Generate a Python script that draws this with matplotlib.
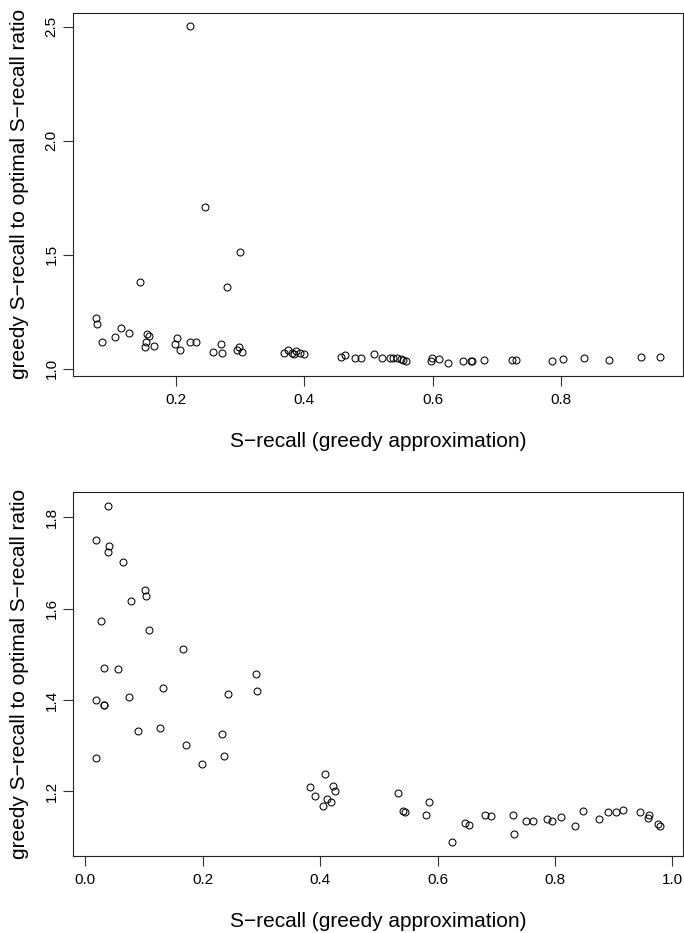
import matplotlib
matplotlib.use("Agg")
import matplotlib.pyplot as plt

plt.rcParams['font.family'] = ['Liberation Sans', 'DejaVu Sans']

# ── Data ──────────────────────────────────────────────────────────────────────
top_x = [0.223, 0.245, 0.301, 0.145, 0.280, 0.076, 0.078, 0.085, 0.106, 0.115,
         0.127, 0.156, 0.158, 0.154, 0.152, 0.166, 0.202, 0.199, 0.207, 0.222,
         0.232, 0.259, 0.270, 0.273, 0.295, 0.299, 0.303, 0.368, 0.375, 0.381,
         0.384, 0.388, 0.394, 0.400, 0.458, 0.463, 0.479, 0.488, 0.508, 0.521,
         0.534, 0.539, 0.545, 0.550, 0.554, 0.559, 0.597, 0.599, 0.610, 0.624,
         0.648, 0.659, 0.662, 0.680, 0.724, 0.730, 0.785, 0.803, 0.836, 0.875,
         0.924, 0.954]
top_y = [2.502, 1.710, 1.510, 1.380, 1.357, 1.221, 1.195, 1.118, 1.138, 1.178,
         1.157, 1.150, 1.144, 1.118, 1.097, 1.100, 1.134, 1.109, 1.083, 1.119,
         1.119, 1.074, 1.107, 1.067, 1.084, 1.094, 1.074, 1.071, 1.081, 1.067,
         1.064, 1.077, 1.069, 1.064, 1.053, 1.062, 1.047, 1.046, 1.065, 1.049,
         1.045, 1.049, 1.046, 1.043, 1.040, 1.033, 1.032, 1.045, 1.042, 1.027,
         1.032, 1.034, 1.034, 1.037, 1.040, 1.040, 1.032, 1.043, 1.046, 1.040,
         1.050, 1.053]

bot_x = [0.039, 0.018, 0.041, 0.039, 0.064, 0.102, 0.103, 0.078, 0.027, 0.109,
         0.166, 0.031, 0.055, 0.291, 0.133, 0.292, 0.243, 0.074, 0.018, 0.031,
         0.031, 0.128, 0.090, 0.233, 0.172, 0.236, 0.018, 0.199, 0.408, 0.382,
         0.422, 0.426, 0.392, 0.411, 0.419, 0.405, 0.532, 0.541, 0.545, 0.586,
         0.580, 0.646, 0.653, 0.680, 0.691, 0.728, 0.750, 0.763, 0.786, 0.794,
         0.811, 0.834, 0.848, 0.875, 0.890, 0.903, 0.915, 0.944, 0.960, 0.959,
         0.976, 0.979, 0.624, 0.730]
bot_y = [1.825, 1.751, 1.738, 1.723, 1.701, 1.641, 1.628, 1.616, 1.572, 1.554,
         1.512, 1.471, 1.468, 1.457, 1.427, 1.419, 1.414, 1.406, 1.400, 1.390,
         1.389, 1.338, 1.333, 1.326, 1.302, 1.277, 1.273, 1.260, 1.239, 1.210,
         1.212, 1.201, 1.190, 1.184, 1.176, 1.169, 1.197, 1.158, 1.154, 1.176,
         1.148, 1.130, 1.126, 1.148, 1.146, 1.148, 1.135, 1.136, 1.139, 1.136,
         1.145, 1.125, 1.157, 1.140, 1.156, 1.155, 1.159, 1.156, 1.148, 1.142,
         1.128, 1.125, 1.089, 1.106]

top_xticks = [0.2, 0.4, 0.6, 0.8]
top_yticks = [1.0, 1.5, 2.0, 2.5]
bot_xticks = [0.0, 0.2, 0.4, 0.6, 0.8, 1.0]
bot_yticks = [1.2, 1.4, 1.6, 1.8]

XLABEL = "S\u2212recall (greedy approximation)"
YLABEL = "greedy S\u2212recall to optimal S\u2212recall ratio"


def r_limits(v):
    # R's default 4% padding of the data range
    lo, hi = min(v), max(v)
    pad = 0.04 * (hi - lo)
    return lo - pad, hi + pad


def r_tick(t):
    return f"{t:.1f}"


fig = plt.figure(figsize=(6.84, 9.33), dpi=100)
ax_top = fig.add_axes([0.1072, 0.597, 0.8909, 0.3894])
ax_bot = fig.add_axes([0.1072, 0.0829, 0.8909, 0.3894])

for ax, xs, ys, xt, yt in [
    (ax_top, top_x, top_y, top_xticks, top_yticks),
    (ax_bot, bot_x, bot_y, bot_xticks, bot_yticks),
]:
    ax.plot(xs, ys, ls='none', marker='o', ms=5.0, mfc='none', mec='black', mew=0.75)
    ax.set_xlim(r_limits(xs))
    ax.set_ylim(r_limits(ys))
    ax.set_xticks(xt)
    ax.set_xticklabels([r_tick(t) for t in xt])
    ax.set_yticks(yt)
    ax.set_yticklabels([r_tick(t) for t in yt], rotation=90, va='center')
    ax.tick_params(direction='out', length=7, width=0.8, labelsize=11,
                   color='#333333')
    ax.tick_params(axis='x', pad=5.5)
    ax.tick_params(axis='y', pad=3.5)
    for s in ax.spines.values():
        s.set_linewidth(0.8)
        s.set_color('#222222')
    ax.set_xlabel(XLABEL, fontsize=15)
    ax.xaxis.set_label_coords(0.5, -0.18)
    ax.xaxis.label.set_va('center')
    ax.set_ylabel(YLABEL, fontsize=15)
    ax.yaxis.set_label_coords(-0.088, 0.5)
    ax.yaxis.label.set_va('center')

fig.savefig("out.png", dpi=100)
